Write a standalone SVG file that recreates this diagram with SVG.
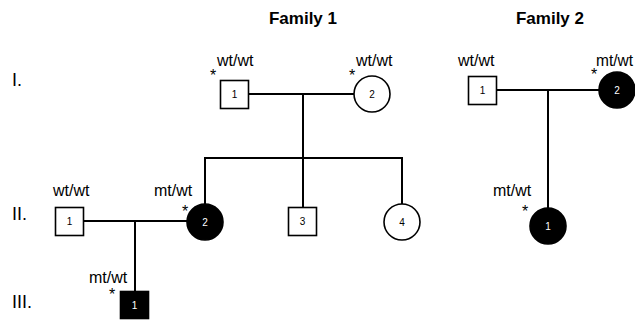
<svg xmlns="http://www.w3.org/2000/svg" width="635" height="322" viewBox="0 0 635 322">
  <style>
    text { font-family: "Liberation Sans", Arial, sans-serif; fill: #000; }
    .title { font-size: 17px; font-weight: bold; text-anchor: middle; }
    .gen { font-size: 18px; }
    .geno { font-size: 16px; }
    .star { font-size: 16px; text-anchor: middle; }
    .num { font-size: 10px; text-anchor: middle; }
    .num.inv { fill: #fff; }
    .open { fill: #fff; stroke: #000; stroke-width: 1.6; }
    .aff { fill: #000; stroke: #000; stroke-width: 1.6; }
    .links line { stroke: #000; stroke-width: 2; }
  </style>

  <rect width="635" height="322" fill="#fff"/>

  <!-- headings -->
  <text class="title" x="303" y="24">Family 1</text>
  <text class="title" x="550" y="24">Family 2</text>

  <!-- generation numbers -->
  <text class="gen" x="12" y="86">I.</text>
  <text class="gen" x="12" y="220">II.</text>
  <text class="gen" x="12" y="308">III.</text>

  <!-- mating, descent and sibship lines -->
  <g id="connectors" class="links">
    <line x1="249" y1="94" x2="354" y2="94"/>
    <line x1="303" y1="94" x2="303" y2="158"/>
    <line x1="204" y1="158" x2="403" y2="158"/>
    <line x1="205" y1="158" x2="205" y2="204"/>
    <line x1="303" y1="158" x2="303" y2="207"/>
    <line x1="402" y1="158" x2="402" y2="204"/>
    <line x1="83" y1="221" x2="187" y2="221"/>
    <line x1="135" y1="221" x2="135" y2="291"/>
    <line x1="497" y1="90" x2="599" y2="90"/>
    <line x1="548" y1="90" x2="548" y2="208"/>
  </g>

  <!-- Family 1, generation I -->
  <g id="f1-I-1">
    <rect class="open" x="220.5" y="80.5" width="28" height="28"/>
    <text class="num" x="234.5" y="98">1</text>
    <text class="geno" x="217" y="66">wt/wt</text>
    <text class="star" x="213" y="81">*</text>
  </g>
  <g id="f1-I-2">
    <circle class="open" cx="372" cy="94" r="18"/>
    <text class="num" x="372" y="97.5">2</text>
    <text class="geno" x="356" y="66">wt/wt</text>
    <text class="star" x="352" y="81">*</text>
  </g>

  <!-- Family 1, generation II -->
  <g id="f1-II-1">
    <rect class="open" x="55.5" y="207.5" width="28" height="28"/>
    <text class="num" x="69.5" y="225">1</text>
    <text class="geno" x="53" y="196">wt/wt</text>
  </g>
  <g id="f1-II-2">
    <circle class="aff" cx="205" cy="222" r="18"/>
    <text class="num inv" x="205" y="225.5">2</text>
    <text class="geno" x="154" y="196">mt/wt</text>
    <text class="star" x="185" y="217">*</text>
  </g>
  <g id="f1-II-3">
    <rect class="open" x="288.5" y="207.5" width="28" height="28"/>
    <text class="num" x="302.5" y="225">3</text>
  </g>
  <g id="f1-II-4">
    <circle class="open" cx="402" cy="222" r="18"/>
    <text class="num" x="402" y="225.5">4</text>
  </g>

  <!-- Family 1, generation III -->
  <g id="f1-III-1">
    <rect class="aff" x="120.5" y="291.5" width="28" height="27"/>
    <text class="num inv" x="134.5" y="308.5">1</text>
    <text class="geno" x="89" y="283">mt/wt</text>
    <text class="star" x="112" y="300">*</text>
  </g>

  <!-- Family 2 -->
  <g id="f2-I-1">
    <rect class="open" x="468.5" y="76.5" width="28" height="28"/>
    <text class="num" x="482.5" y="94">1</text>
    <text class="geno" x="458" y="66">wt/wt</text>
  </g>
  <g id="f2-I-2">
    <circle class="aff" cx="617" cy="90" r="18"/>
    <text class="num inv" x="617" y="93.5">2</text>
    <text class="geno" x="596" y="66" textLength="37" lengthAdjust="spacingAndGlyphs">mt/wt</text>
    <text class="star" x="594" y="80">*</text>
  </g>
  <g id="f2-II-1">
    <circle class="aff" cx="548" cy="226" r="18"/>
    <text class="num inv" x="548" y="229.5">1</text>
    <text class="geno" x="493" y="196">mt/wt</text>
    <text class="star" x="525" y="217">*</text>
  </g>
</svg>
